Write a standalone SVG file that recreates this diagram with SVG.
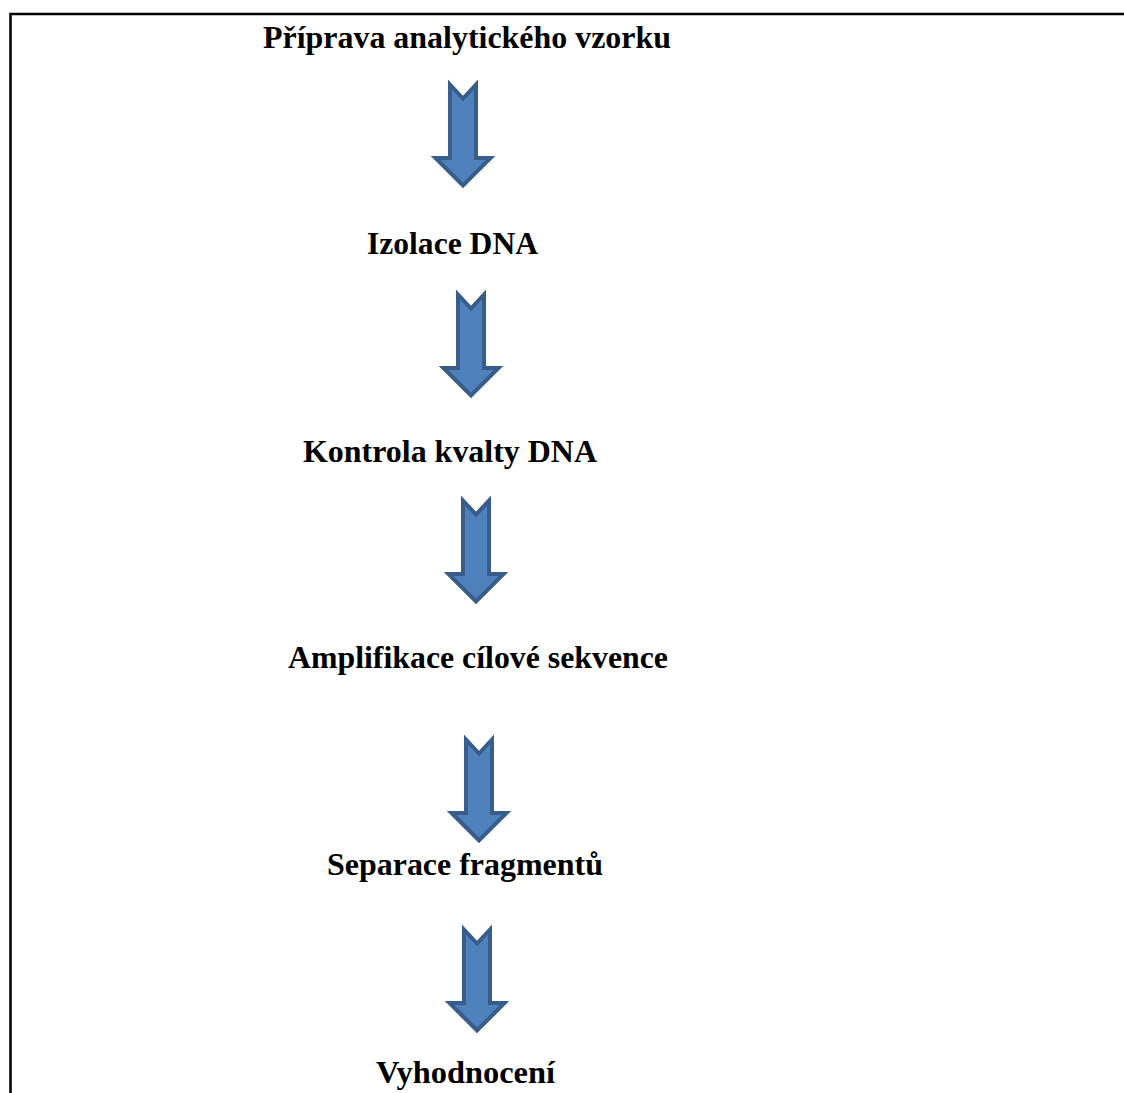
<svg xmlns="http://www.w3.org/2000/svg" width="1124" height="1093" viewBox="0 0 1124 1093">
<defs>
<style>
.t{font-family:"Liberation Serif","Times New Roman",serif;font-weight:bold;font-size:31px;fill:#000}
.a{fill:#4F81BD;stroke:#385D8A;stroke-width:4;stroke-linejoin:miter}
.b{fill:none;stroke:#000;stroke-width:2.5}
</style>
<path id="arr" d="M-13,1.5 L0,15.5 L13,1.5 L13,75 L27.5,75 L0,102.5 L-27.5,75 L-13,75 Z"/>
</defs>
<rect width="1124" height="1093" fill="#fff"/>
<path class="b" d="M10.5,1093 L10.5,14 L1124,14"/>
<g id="connectors">
<use href="#arr" class="a" x="463" y="83"/>
<use href="#arr" class="a" x="471" y="293"/>
<use href="#arr" class="a" x="476" y="499"/>
<use href="#arr" class="a" x="479" y="738"/>
<use href="#arr" class="a" x="477" y="928"/>
</g>
<g id="n1"><text class="t" x="263" y="48" textLength="408" lengthAdjust="spacingAndGlyphs">Příprava analytického vzorku</text></g>
<g id="n2"><text class="t" x="367" y="254" textLength="171" lengthAdjust="spacingAndGlyphs">Izolace DNA</text></g>
<g id="n3"><text class="t" x="303" y="462" textLength="294" lengthAdjust="spacingAndGlyphs">Kontrola kvalty DNA</text></g>
<g id="n4"><text class="t" x="288" y="668" textLength="380" lengthAdjust="spacingAndGlyphs">Amplifikace cílové sekvence</text></g>
<g id="n5"><text class="t" x="327" y="875" textLength="276" lengthAdjust="spacingAndGlyphs">Separace fragmentů</text></g>
<g id="n6"><text class="t" x="376" y="1083" textLength="179" lengthAdjust="spacingAndGlyphs">Vyhodnocení</text></g>
</svg>
